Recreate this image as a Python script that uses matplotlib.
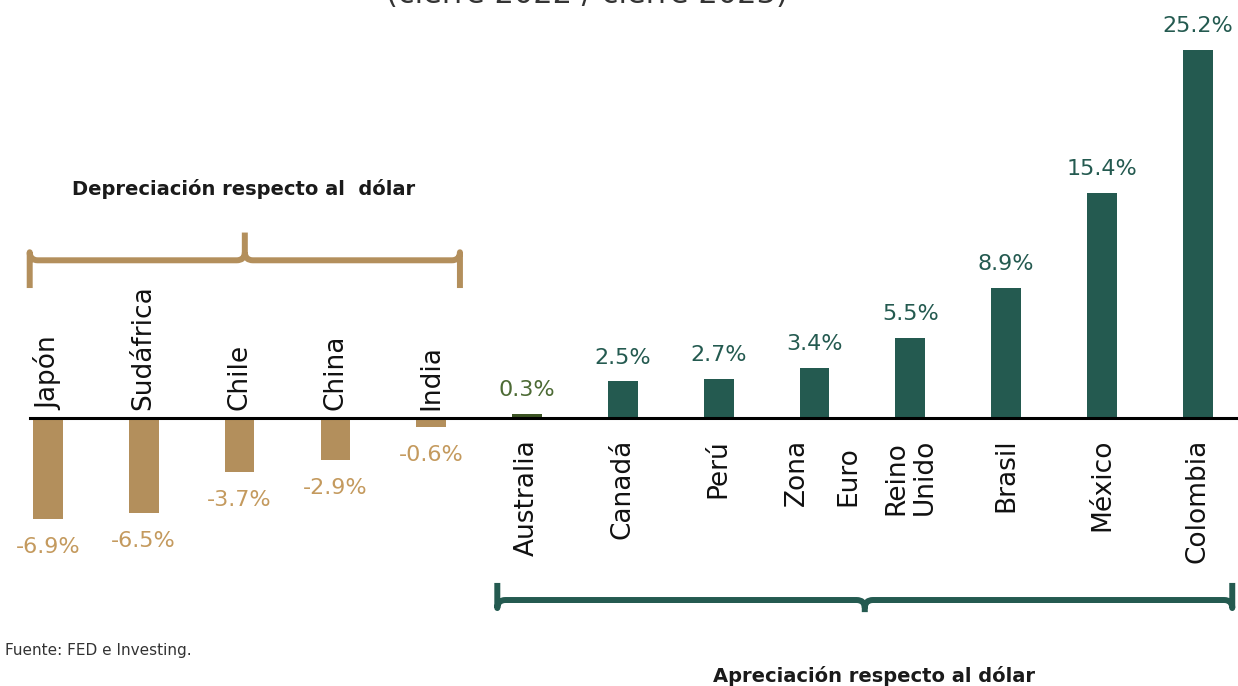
import matplotlib
matplotlib.use('Agg')
import matplotlib.pyplot as plt
from matplotlib.path import Path
from matplotlib.patches import PathPatch

# Data
countries = ['Japón', 'Sudáfrica', 'Chile', 'China', 'India',
             'Australia', 'Canadá', 'Perú', 'Zona\nEuro', 'Reino\nUnido',
             'Brasil', 'México', 'Colombia']
values = [-6.9, -6.5, -3.7, -2.9, -0.6,
          0.3, 2.5, 2.7, 3.4, 5.5,
          8.9, 15.4, 25.2]

GOLD = '#b38f5c'
GOLD_TXT = '#c49a5e'
GREEN = '#245a50'
OLIVE = '#3b5323'
OLIVE_TXT = '#4d6b35'

plt.rcParams['font.family'] = ['DejaVu Sans']

fig = plt.figure(figsize=(12.38, 6.86), dpi=100)
ax = fig.add_axes([0, 0, 1, 1])
ax.set_xlim(-0.5, 12.42)
ax.set_ylim(-18.36, 28.63)
ax.axis('off')

x = list(range(len(values)))
colors = []
for i, v in enumerate(values):
    if v < 0:
        colors.append(GOLD)
    elif i == 5:
        colors.append(OLIVE)
    else:
        colors.append(GREEN)
ax.bar(x, values, width=0.31, color=colors, zorder=2)

# zero line
ax.plot([-0.19, 12.5], [0, 0], color='black', lw=2.2, zorder=3)

for i, (name, v) in enumerate(zip(countries, values)):
    if v < 0:
        ax.annotate(name, (i, 0), xytext=(0, 6), textcoords='offset points',
                    rotation=90, ha='center', va='bottom', fontsize=19,
                    color='#111111')
        ax.annotate(f'{v:.1f}%', (i, v), xytext=(0, -13), textcoords='offset points',
                    ha='center', va='top', fontsize=16, color=GOLD_TXT)
    else:
        # "Zona Euro" is spread wider in the original than "Reino Unido"
        ls = 2.3 if name.startswith('Zona') else 1.1
        dx = 6 if name.startswith('Zona') else 0
        ax.annotate(name, (i, 0), xytext=(dx, -15), textcoords='offset points',
                    rotation=90, ha='center', va='top', fontsize=19,
                    color='#111111', multialignment='left', linespacing=ls)
        tc = OLIVE_TXT if i == 5 else GREEN
        ax.annotate(f'{v:.1f}%', (i, v), xytext=(0, 10), textcoords='offset points',
                    ha='center', va='bottom', fontsize=16, color=tc)


def bracket(x0, x1, yb, ye, yt, color, rx=0.085, ry=0.55):
    xc = (x0 + x1) / 2
    s = 1 if yt > yb else -1
    verts = [(x0, ye), (x0, yb + s * ry), (x0, yb), (x0 + rx, yb),
             (xc - rx, yb), (xc, yb), (xc, yb + s * ry), (xc, yt),
             (xc, yb + s * ry), (xc, yb), (xc + rx, yb),
             (x1 - rx, yb), (x1, yb), (x1, yb + s * ry), (x1, ye)]
    codes = [Path.MOVETO, Path.LINETO, Path.CURVE3, Path.CURVE3,
             Path.LINETO, Path.CURVE3, Path.CURVE3, Path.LINETO,
             Path.MOVETO, Path.CURVE3, Path.CURVE3,
             Path.LINETO, Path.CURVE3, Path.CURVE3, Path.LINETO]
    ax.add_patch(PathPatch(Path(verts, codes), fill=False, edgecolor=color,
                           lw=4.3, capstyle='butt', joinstyle='round'))


bracket(-0.19, 4.3, 10.8, 8.9, 12.7, GOLD)
bracket(4.69, 12.36, -12.47, -11.3, -13.3, GREEN)

fig.text(244 / 1238, 1 - 189 / 686, 'Depreciación respecto al  dólar',
         ha='center', va='center', fontsize=14, fontweight='bold', color='#1a1a1a')
fig.text(874 / 1238, 1 - 676 / 686, 'Apreciación respecto al dólar',
         ha='center', va='center', fontsize=14, fontweight='bold', color='#1a1a1a')
fig.text(5 / 1238, 1 - 650 / 686, 'Fuente: FED e Investing.',
         ha='left', va='center', fontsize=11, color='#333333')
# title sits mostly above the top edge, as in the original
fig.text(587 / 1238, 1 - 3 / 686, '(cierre 2022 / cierre 2023)',
         ha='center', va='baseline', fontsize=22, color='#333333')

fig.savefig('out.png', dpi=100)
